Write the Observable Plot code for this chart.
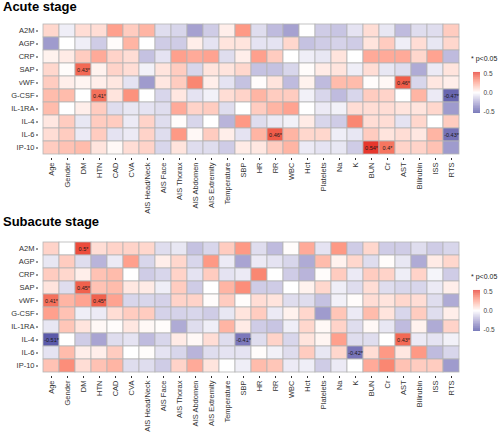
<!DOCTYPE html>
<html><head><meta charset="utf-8">
<script src="https://cdn.jsdelivr.net/npm/d3@7"></script>
<script src="https://cdn.jsdelivr.net/npm/@observablehq/plot@0.6"></script>
<style>
body{margin:0;background:#fff;font-family:"Liberation Sans",Arial,sans-serif;}
#root{position:relative;width:500px;height:432px;overflow:hidden;background:#fff;}
.title{position:absolute;left:3px;font-weight:bold;font-size:13px;line-height:14px;color:#000;white-space:nowrap;}
.abs{position:absolute;}
.sig{position:absolute;font-size:7px;line-height:8px;color:#222;white-space:nowrap;}
</style></head>
<body><div id="root"></div>
<script>
const cols = ["Age","Gender","DM","HTN","CAD","CVA","AIS Head/Neck","AIS Face","AIS Thorax","AIS Abdomen","AIS Extremity","Temperature","SBP","HR","RR","WBC","Hct","Platelets","Na","K","BUN","Cr","AST","Bilirubin","ISS","RTS"];
const rows = ["A2M","AGP","CRP","SAP","vWF","G-CSF","IL-1RA","IL-4","IL-6","IP-10"];

const acuteValues = [
  [0.12,-0.05,0.1,0.1,0.28,0.15,0.22,-0.1,-0.12,-0.28,-0.15,0.05,0.3, -0.1,-0.2,-0.28,0,-0.15,-0.17,-0.08,0.1,-0.07,-0.2,-0.1,-0.1,0.15],
  [-0.3,0,-0.05,-0.15,0.01,0.22,0,-0.15,-0.15,0.05,-0.08,0.08,0.08, -0.08,-0.08,0.12,-0.18,-0.15,-0.13,-0.15,0.08,0.15,-0.05,0.1,-0.07,0.12],
  [0.04,0.06,0.15,0.25,0.13,0.1,-0.18,-0.08,0.28,0.25,0.27,-0.1,0.05, 0.28,0.15,0,-0.05,-0.07,0.08,0,0.25,0.25,0.25,0.12,0.27,-0.2],
  [0.12,0.01,0.43,0.04,0.13,0.1,-0.04,0.08,0.15,-0.12,0.08,0.08,0.12, -0.18,-0.18,-0.12,0.01,0.06,0.08,-0.05,0.1,-0.07,-0.1,-0.25,-0.06,0.08],
  [0.15,0.05,0.03,0.05,0.07,-0.08,-0.3,0.07,0.15,0.35,0.05,-0.08,-0.18, 0.01,0.08,-0.2,0.04,-0.2,0.2,0.2,0.01,0.02,0.46,-0.12,0.07,0.05],
  [0.2,0.2,0,0.41,0.08,0.32,0,-0.12,0.07,-0.08,-0.04,0.1,0.13, 0.22,0.15,0.15,-0.04,-0.12,-0.2,-0.12,0.15,0.13,0,0.22,-0.06,-0.47],
  [0.2,0,0.05,0.15,-0.1,-0.07,-0.08,-0.1,0.25,0.13,0.15,-0.1,0, 0.15,0.22,0.27,0,-0.06,-0.04,0.1,0.1,0.1,0.08,0.08,0.12,-0.3],
  [0.07,0.15,-0.07,0.15,0.15,-0.06,0.13,-0.1,0.01,-0.12,0,-0.22,0.3, -0.1,-0.06,-0.04,0.06,-0.12,-0.15,0.35,0.1,0.1,-0.08,0.12,0,0.15],
  [0.1,0.15,-0.06,0.15,-0.08,-0.06,0.13,-0.1,0.3,0.02,0.15,0.05,-0.08, 0.22,0.46,0.22,0.12,0.12,-0.05,-0.07,0.15,0.08,0.1,0.07,0.22,-0.43],
  [0.15,0.18,0.2,0.08,0.02,0.1,0.13,-0.12,0.08,-0.1,-0.1,-0.15,0.06, 0.07,0.15,0.22,-0.06,-0.08,-0.07,-0.15,0.54,0.4,0.13,0.13,0.18,-0.3]
];
const subacuteValues = [
  [0.13,0,0.5,0.1,0.13,0.13,0.12,-0.1,-0.07,-0.18,-0.12,0.15,0.3, -0.1,-0.2,0.01,0.25,-0.08,0.3,-0.15,0.12,-0.15,-0.15,-0.1,-0.15,-0.12],
  [-0.07,0.15,-0.1,-0.22,-0.06,0.28,-0.12,0.05,0.12,-0.12,0.3,-0.06,-0.27, -0.06,-0.08,-0.12,-0.25,0.2,0.04,0.12,-0.1,0.01,-0.07,-0.25,0.06,0.12],
  [0.15,0.12,0.05,0.18,0.2,0,-0.15,-0.12,0.13,-0.08,0.15,-0.08,-0.06, 0.35,0,-0.15,-0.22,0.01,0.15,-0.06,0.15,0.13,-0.05,0.13,-0.03,-0.15],
  [0.08,-0.1,0.45,0.18,0.2,0.07,0.06,-0.05,0.15,-0.15,0,0.22,0.33, -0.15,-0.15,0,0.04,0.12,-0.05,-0.1,0.1,-0.1,-0.12,-0.12,-0.06,0.05],
  [0.41,0.22,0.27,0.45,0.27,-0.12,-0.12,-0.13,0.13,0.13,0.01,0.15,0.01, 0.1,0.08,-0.1,-0.1,-0.18,-0.04,0.01,0.1,0.08,0.12,0.1,-0.1,-0.25],
  [0.28,0.18,-0.05,-0.06,0.1,0.15,0.15,-0.13,-0.13,-0.12,-0.15,-0.07,0.08, 0.15,-0.06,0.04,0.12,-0.3,0.17,-0.06,0.2,0.08,-0.12,0.15,-0.1,0.05],
  [-0.07,0.17,0.08,0.02,0.01,0.07,0.02,0.01,-0.25,-0.1,-0.05,0.22,0.06, -0.15,-0.17,-0.05,0.12,0.02,0.13,-0.1,0.02,-0.07,-0.2,0.04,-0.25,0.13],
  [-0.51,0,-0.15,-0.27,-0.1,-0.08,-0.2,-0.12,0.06,0.02,0.1,-0.1,-0.41, -0.1,0.13,-0.12,0.08,0.03,0.28,-0.1,-0.1,0,0.43,-0.06,-0.08,-0.04],
  [-0.08,0.2,0.05,0.05,0.15,0,0.01,-0.08,-0.12,-0.22,-0.1,-0.08,-0.08, 0.01,-0.04,-0.1,0.15,-0.07,0.12,-0.42,0.1,0.3,0.07,0.3,-0.2,-0.12],
  [0.18,0.33,0.1,0.18,0.22,-0.1,-0.1,-0.15,0.13,0.25,0.08,0,-0.05, 0.2,0.17,-0.06,-0.05,-0.15,-0.06,0,0.25,0.35,0.18,0.15,0.15,-0.3]
];

// significant cells: [row, column, label]
const acuteSig = [
  ["SAP","DM","0.43*"],["G-CSF","HTN","0.41*"],["vWF","AST","0.46*"],["G-CSF","RTS","-0.47*"],
  ["IL-6","RR","0.46*"],["IL-6","RTS","-0.43*"],["IP-10","BUN","0.54*"],["IP-10","Cr","0.4*"]
];
const subacuteSig = [
  ["A2M","DM","0.5*"],["SAP","DM","0.45*"],["vWF","Age","0.41*"],["vWF","HTN","0.45*"],
  ["IL-4","Age","-0.51*"],["IL-4","SBP","-0.41*"],["IL-4","AST","0.43*"],["IL-6","K","-0.42*"]
];
const legendTicks = [-0.5, 0, 0.5];
const legendTitle = "* p<0.05";

const colorScale = {type:"linear", domain:[-0.55,0,0.55], range:["#4d4fa3","#ffffff","#e6312a"], clamp:true, interpolate:"lab"};
const font = "'Liberation Sans', Arial, sans-serif";
const root = document.getElementById("root");

function add(el, left, top){ el.style.position="absolute"; el.style.left=left+"px"; el.style.top=top+"px"; root.appendChild(el); return el; }

function panel(title, values, sig, titleTop, plotTop, mb){
  const t = document.createElement("div"); t.className="title"; t.textContent=title; add(t,3,titleTop);
  const data = rows.flatMap((r,i)=>cols.map((c,j)=>({row:r,col:c,value:values[i][j]})));
  const sigData = sig.map(([row,col,label])=>({row,col,label}));
  const p = Plot.plot({
    width:500, height:5+139+mb, marginTop:5, marginBottom:mb, marginLeft:38, marginRight:36,
    style:{fontFamily:font, fontSize:"7.5px", color:"#333", background:"transparent"},
    x:{domain:cols, padding:0, label:null, tickRotate:-90, tickSize:2, tickPadding:2},
    y:{domain:rows, padding:0, label:null, tickSize:2, tickPadding:2},
    color:colorScale,
    marks:[
      Plot.cell(data,{x:"col",y:"row",fill:"value",stroke:"#b4b4b4",strokeWidth:0.8,inset:0}),
      Plot.text(sigData,{x:"col",y:"row",text:"label",fontSize:5.5,fill:"#1a1a1a"})
    ]
  });
  add(p,0,plotTop);
  // legend
  const s = document.createElement("div"); s.className="sig"; s.textContent=legendTitle; add(s,471,plotTop+41);
  const step = 0.011;
  const grad = d3.range(-0.55, 0.55-1e-9, step);
  const lg = Plot.plot({
    width:30, height:51, marginTop:5, marginBottom:5, marginLeft:0, marginRight:23,
    style:{fontFamily:font, fontSize:"6.5px", color:"#444", background:"transparent"},
    x:{axis:null, domain:[0,1]},
    y:{domain:[-0.55,0.55], axis:"right", ticks:legendTicks, tickFormat:d=>d.toFixed(1).replace("−","-"), tickSize:0, tickPadding:3, label:null},
    color:colorScale,
    marks:[Plot.rect(grad,{x1:0,x2:1,y1:d=>d,y2:d=>d+step+0.001,fill:d=>d+step/2})]
  });
  add(lg,473,plotTop+53);
}

panel("Acute stage", acuteValues, acuteSig, 0, 14, 58);
panel("Subacute stage", subacuteValues, subacuteSig, 215, 232, 56);
</script>
</body></html>
